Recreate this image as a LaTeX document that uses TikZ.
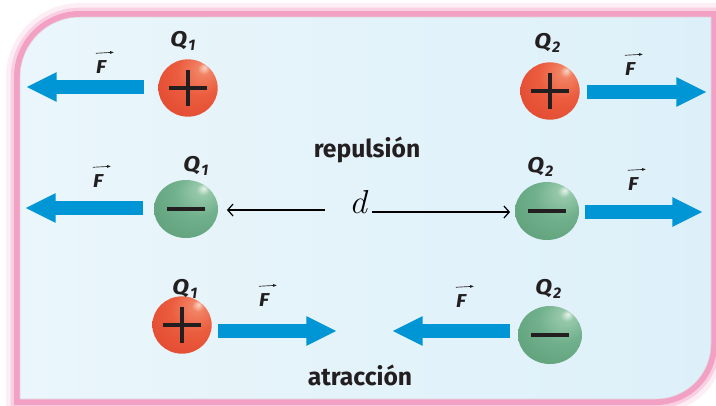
\documentclass[tikz,border=0pt]{standalone}
\usepackage{fontspec}
\setmainfont{Fira Sans}
\usetikzlibrary{arrows.meta,shapes.geometric,calc}
\definecolor{forceblue}{RGB}{0,150,214}
\definecolor{pinkframe}{RGB}{243,160,197}
\definecolor{pinkdeep}{RGB}{238,140,184}
\definecolor{bgleft}{RGB}{234,246,251}
\definecolor{bgright}{RGB}{221,240,249}
\definecolor{txt}{RGB}{35,31,32}
\definecolor{rb0}{RGB}{250,215,200}
\definecolor{rb1}{RGB}{242,130,100}
\definecolor{rb2}{RGB}{235,92,62}
\definecolor{rb3}{RGB}{224,70,46}
\definecolor{rb4}{RGB}{205,52,34}
\definecolor{gb0}{RGB}{232,244,236}
\definecolor{gb1}{RGB}{150,200,170}
\definecolor{gb2}{RGB}{112,176,140}
\definecolor{gb3}{RGB}{92,158,120}
\definecolor{gb4}{RGB}{70,135,98}
\pgfdeclareradialshading{redball}{\pgfpoint{14bp}{18bp}}{color(0bp)=(rb0); color(5bp)=(rb1); color(20bp)=(rb2); color(45bp)=(rb3); color(75bp)=(rb4)}
\pgfdeclareradialshading{greenball}{\pgfpoint{14bp}{18bp}}{color(0bp)=(gb0); color(5bp)=(gb1); color(20bp)=(gb2); color(45bp)=(gb3); color(75bp)=(gb4)}
\newcommand{\qsub}[1]{\scalebox{1.15}[1]{Q}\kern1pt\raisebox{-3pt}{\fontsize{11.5}{11.5}\selectfont\bfseries\itshape #1}}
\newcommand{\fvec}{\scalebox{1.1}[1]{F}}
\begin{document}
\begin{tikzpicture}[x=0.75pt,y=-0.75pt,
  force/.style={line width=10.5pt, forceblue, -{Triangle[length=23pt,width=20.5pt]}},
  redsphere/.style={ellipse, shading=redball, inner sep=0pt, minimum width=44.5pt, minimum height=43pt},
  greensphere/.style={ellipse, shading=greenball, inner sep=0pt, minimum width=48pt, minimum height=43.5pt},
  sign/.style={line width=2.3pt, txt},
  flabel/.style={inner sep=0pt, text=txt, font=\fontsize{14}{14}\selectfont\bfseries\itshape},
  qlabel/.style={inner sep=0pt, text=txt, anchor=base west, font=\fontsize{16}{16}\selectfont\bfseries\itshape},
  vecarrow/.style={line width=0.5pt, txt, -{Latex[length=3pt,width=2.2pt]}},
  darrow/.style={line width=0.9pt, black, -{Straight Barb[length=4pt,width=9pt]}},
  word/.style={inner sep=0pt, text=txt, anchor=base, font=\fontsize{18.5}{18.5}\selectfont\bfseries}
]
\useasboundingbox (0,0) rectangle (716,405);
% frame
\fill[white] (0,0) rectangle (716,405);
\draw[pinkframe!18, line width=21pt] (20,399) -- (20,77) .. controls (20,43.9) and (46.9,17) .. (80,17) -- (711,17) -- (711,344)
  .. controls (711,374.4) and (686.4,399) .. (656,399) -- cycle;
\draw[pinkframe!50, line width=14pt] (20,399) -- (20,77) .. controls (20,43.9) and (46.9,17) .. (80,17) -- (711,17) -- (711,344)
  .. controls (711,374.4) and (686.4,399) .. (656,399) -- cycle;
\draw[pinkframe, line width=9pt] (20,399) -- (20,77) .. controls (20,43.9) and (46.9,17) .. (80,17) -- (711,17) -- (711,344)
  .. controls (711,374.4) and (686.4,399) .. (656,399) -- cycle;
\shade[left color=bgleft, right color=bgright, draw=pinkdeep!50!gray!40, line width=0.4pt]
  (20,399) -- (20,77) .. controls (20,43.9) and (46.9,17) .. (80,17) -- (711,17) -- (711,344)
  .. controls (711,374.4) and (686.4,399) .. (656,399) -- cycle;

% spheres
\node[redsphere] (r1) at (188,88) {};
\node[redsphere] (r2) at (550,91) {};
\node[greensphere] (g1) at (186,209) {};
\node[greensphere] (g2) at (547,211) {};
\node[redsphere] (r3) at (182,325) {};
\node[greensphere] (g3) at (550,335) {};

% signs
\foreach \n in {r1,r2,r3}{
  \draw[sign] ($(\n.center)+(-19,0)$) -- ($(\n.center)+(19,0)$);
  \draw[sign] ($(\n.center)+(0,-18)$) -- ($(\n.center)+(0,18)$);
}
\foreach \n in {g1,g2,g3}{
  \draw[sign] ($(\n.center)+(-19,0)$) -- ($(\n.center)+(19,0)$);
}

% force arrows
\coordinate (a1s) at (144,87);  \coordinate (a1e) at (26,87);
\coordinate (a2s) at (587,92);  \coordinate (a2e) at (707,92);
\coordinate (a3s) at (143,208); \coordinate (a3e) at (25,208);
\coordinate (a4s) at (585,212); \coordinate (a4e) at (703,212);
\coordinate (a5s) at (218,331); \coordinate (a5e) at (337,331);
\coordinate (a6s) at (510,331); \coordinate (a6e) at (392,331);
\foreach \k in {1,...,6}{ \draw[force] (a\k s) -- (a\k e); }

% F labels
\node[flabel] (f1) at (101,67) {\fvec};
\node[flabel] (f2) at (630,69) {\fvec};
\node[flabel] (f3) at (98,181) {\fvec};
\node[flabel] (f4) at (633,184) {\fvec};
\node[flabel] (f5) at (264,300) {\fvec};
\node[flabel] (f6) at (461,301) {\fvec};
\foreach \k in {1,...,6}{
  \draw[vecarrow] ($(f\k.north west)+(0,-7)$) -- ($(f\k.north east)+(8,-8)$);
}

% Q labels
\node[qlabel] (q1) at (170,46) {\qsub{1}};
\node[qlabel] (q2) at (534,48) {\qsub{2}};
\node[qlabel] (q3) at (183,171) {\qsub{1}};
\node[qlabel] (q4) at (527,172) {\qsub{2}};
\node[qlabel] (q5) at (172,294) {\qsub{1}};
\node[qlabel] (q6) at (535,294) {\qsub{2}};

% words
\node[word] (rep) at (367,157) {repulsión};
\node[word] (atr) at (360,385) {atracción};

% distance
\node[inner sep=0pt, anchor=base, font=\fontsize{30}{30}\selectfont] (dd) at (360,213) {$d$};
\coordinate (dl) at ($(dd.base)+(-35,-3)$);
\coordinate (dr) at ($(dd.base)+(12,-1)$);
\draw[darrow, shorten >=6.5pt] (dl) -- (dl -| g1.east);
\draw[darrow, shorten >=3.5pt] (dr) -- (dr -| g2.west);
\end{tikzpicture}
\end{document}
